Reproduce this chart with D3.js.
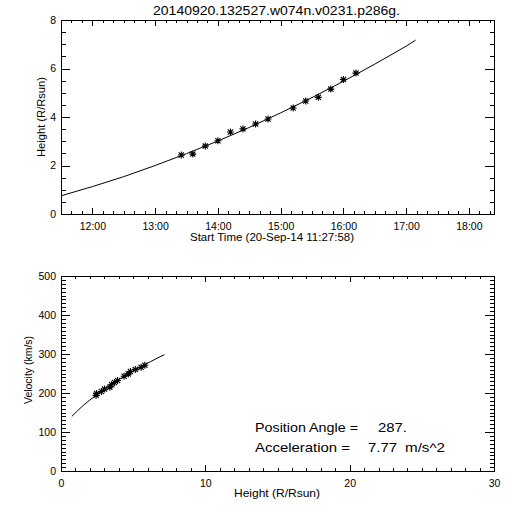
<!DOCTYPE html>
<html><head><meta charset="utf-8">
<script src="https://cdn.jsdelivr.net/npm/d3@7"></script>
<style>
body{margin:0;background:#fff}
text{font-family:"Liberation Sans",Arial,sans-serif;fill:#000}
</style></head>
<body><svg id="c" width="512" height="512"></svg>
<script>
// ---- data ----
const chartTitle = "20140920.132527.w074n.v0231.p286g.";
const obsTimes = ["13:25","13:36","13:48","14:00","14:12","14:24","14:36","14:48","15:12","15:24","15:36","15:48","16:00","16:12"];
const obsHeights = [2.43,2.47,2.80,3.02,3.38,3.51,3.71,3.92,4.37,4.66,4.81,5.15,5.55,5.81];
const obsVelocities = [194,199,204,210,215,221,227,232,243,249,255,260,266,271];
const fitTimes = ["11:30","12:00","12:30","13:00","13:30","14:00","14:30","15:00","15:30","16:00","16:30","17:00","17:09"];
const fitHeights = [0.75,1.13,1.54,2.00,2.49,3.01,3.57,4.17,4.80,5.47,6.18,6.92,7.17];
const fitVelocities = [140,154,168,182,196,210,224,238,252,266,280,294,298];
const heightTicks = [0,2,4,6,8];
const velocityTicks = [0,100,200,300,400,500];
const distanceTicks = [0,10,20,30];
const timeDomain = ["11:30","18:24"];
const positionAngleText = "287.";
const accelerationText = "7.77";

const parseT = s => new Date("2014-09-20T" + s + ":00Z");
const svg = d3.select("#c");

// ---- top panel: height vs time ----
const T = {l:61, r:494, t:20, b:214};
const xT = d3.scaleUtc().domain(timeDomain.map(parseT)).range([T.l, T.r]);
const yH = d3.scaleLinear().domain([0,8]).range([T.b, T.t]);

function boxAxes(g, P, x, y, xMaj, xMin, yMaj, yMin, xFmt, yFmt){
  const xs = 6, xm = 3, ys = 9, ym = 4.5;
  // bottom
  g.append("g").attr("transform",`translate(0,${P.b})`)
    .call(d3.axisBottom(x).tickValues(xMin).tickSize(-xm).tickFormat(""));
  g.append("g").attr("class","lab").attr("transform",`translate(0,${P.b})`)
    .call(d3.axisBottom(x).tickValues(xMaj).tickSize(-xs).tickPadding(9).tickFormat(xFmt));
  // top
  g.append("g").attr("transform",`translate(0,${P.t})`)
    .call(d3.axisTop(x).tickValues(xMin).tickSize(-xm).tickFormat(""));
  g.append("g").attr("transform",`translate(0,${P.t})`)
    .call(d3.axisTop(x).tickValues(xMaj).tickSize(-xs).tickFormat(""));
  // left
  g.append("g").attr("transform",`translate(${P.l},0)`)
    .call(d3.axisLeft(y).tickValues(yMin).tickSize(-ym).tickFormat(""));
  g.append("g").attr("class","lab").attr("transform",`translate(${P.l},0)`)
    .call(d3.axisLeft(y).tickValues(yMaj).tickSize(-ys).tickPadding(5).tickFormat(yFmt));
  // right
  g.append("g").attr("transform",`translate(${P.r},0)`)
    .call(d3.axisRight(y).tickValues(yMin).tickSize(-ym).tickFormat(""));
  g.append("g").attr("transform",`translate(${P.r},0)`)
    .call(d3.axisRight(y).tickValues(yMaj).tickSize(-ys).tickFormat(""));
  g.selectAll(".domain").remove();
  g.selectAll(".tick line").attr("stroke","#000").attr("shape-rendering","crispEdges");
  g.selectAll(".lab text").attr("font-size","10.5px").attr("font-family","Liberation Sans, Arial, sans-serif").attr("fill","#000");
  g.append("rect").attr("x",P.l).attr("y",P.t).attr("width",P.r-P.l).attr("height",P.b-P.t)
    .attr("fill","none").attr("stroke","#000").attr("shape-rendering","crispEdges");
}

const gT = svg.append("g");
const tMajor = d3.utcHour.range(parseT("12:00"), parseT("18:01"));
const tMinor = d3.utcMinute.every(10).range(parseT("11:30"), parseT("18:24"));
const hMinor = d3.range(0, 8.01, 0.5);
boxAxes(gT, T, xT, yH, tMajor, tMinor, heightTicks, hMinor, d3.utcFormat("%H:%M"), d3.format("d"));

const star = "M-3.5,0H3.5M0,-3.5V3.5M-2.6,-2.6L2.6,2.6M-2.6,2.6L2.6,-2.6";

gT.append("path")
  .datum(fitTimes.map((t,i)=>[parseT(t), fitHeights[i]]))
  .attr("fill","none").attr("stroke","#000").attr("stroke-width",1)
  .attr("d", d3.line().x(d=>xT(d[0])).y(d=>yH(d[1])));
gT.selectAll(".st").data(obsTimes.map((t,i)=>[parseT(t), obsHeights[i]])).join("path")
  .attr("transform", d=>`translate(${xT(d[0])},${yH(d[1])})`)
  .attr("d", star).attr("fill","none").attr("stroke","#000").attr("stroke-width",1.1);

svg.append("text").attr("x",276.5).attr("y",15).attr("text-anchor","middle")
  .attr("font-size","12px").attr("textLength",247).attr("lengthAdjust","spacingAndGlyphs").text(chartTitle);
svg.append("text").attr("x",272).attr("y",241).attr("text-anchor","middle")
  .attr("font-size","11px").attr("textLength",164).attr("lengthAdjust","spacingAndGlyphs")
  .text("Start Time (20-Sep-14 11:27:58)");
svg.append("text").attr("transform","translate(45,117) rotate(-90)").attr("text-anchor","middle")
  .attr("font-size","11px").attr("textLength",80).attr("lengthAdjust","spacingAndGlyphs")
  .text("Height (R/Rsun)");

// ---- bottom panel: velocity vs height ----
const B = {l:61, r:494, t:276, b:471};
const xD = d3.scaleLinear().domain([0,30]).range([B.l, B.r]);
const yV = d3.scaleLinear().domain([0,500]).range([B.b, B.t]);
const gB = svg.append("g");
boxAxes(gB, B, xD, yV, distanceTicks, d3.range(0,30.01,1), velocityTicks, d3.range(0,500.1,10), d3.format("d"), d3.format("d"));

gB.append("path")
  .datum(fitHeights.map((h,i)=>[h, fitVelocities[i]]))
  .attr("fill","none").attr("stroke","#000").attr("stroke-width",1)
  .attr("d", d3.line().x(d=>xD(d[0])).y(d=>yV(d[1])));
gB.selectAll(".sv").data(obsHeights.map((h,i)=>[h, obsVelocities[i]])).join("path")
  .attr("transform", d=>`translate(${xD(d[0])},${yV(d[1])})`)
  .attr("d", star).attr("fill","none").attr("stroke","#000").attr("stroke-width",1.1);

svg.append("text").attr("x",277).attr("y",497).attr("text-anchor","middle")
  .attr("font-size","11px").attr("textLength",86).attr("lengthAdjust","spacingAndGlyphs")
  .text("Height (R/Rsun)");
svg.append("text").attr("transform","translate(32,370) rotate(-90)").attr("text-anchor","middle")
  .attr("font-size","11px").attr("textLength",68).attr("lengthAdjust","spacingAndGlyphs")
  .text("Velocity (km/s)");

const ann1 = svg.append("text").attr("y",432).attr("font-size","13.5px");
ann1.append("tspan").attr("x",255).attr("textLength",103).attr("lengthAdjust","spacingAndGlyphs").text("Position Angle =");
ann1.append("tspan").attr("x",378).attr("textLength",29).attr("lengthAdjust","spacingAndGlyphs").text(positionAngleText);
const ann2 = svg.append("text").attr("y",452).attr("font-size","13.5px");
ann2.append("tspan").attr("x",255).attr("textLength",95).attr("lengthAdjust","spacingAndGlyphs").text("Acceleration =");
ann2.append("tspan").attr("x",368).attr("textLength",29).attr("lengthAdjust","spacingAndGlyphs").text(accelerationText);
ann2.append("tspan").attr("x",405).attr("textLength",40).attr("lengthAdjust","spacingAndGlyphs").text("m/s^2");
</script></body></html>
